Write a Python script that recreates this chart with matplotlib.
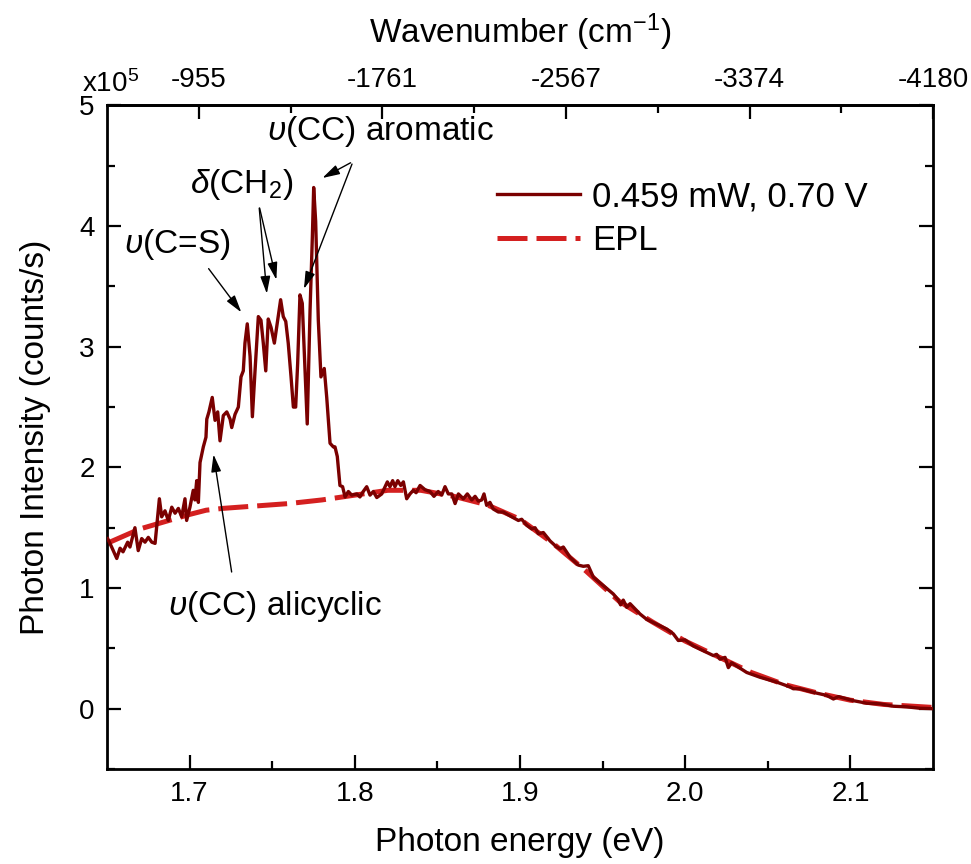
import numpy as np
import matplotlib
matplotlib.use("Agg")
import matplotlib.pyplot as plt
from matplotlib.ticker import MultipleLocator, FixedLocator

plt.rcParams['font.family'] = ['Liberation Sans', 'DejaVu Sans']
plt.rcParams['mathtext.fontset'] = 'custom'
plt.rcParams['mathtext.rm'] = 'Liberation Sans'
plt.rcParams['mathtext.it'] = 'Liberation Sans:italic'

# measured spectrum, photon energy (eV) vs intensity (x1e5 counts/s)
energy_meas = [1.6504, 1.6528, 1.6559, 1.6579, 1.6597, 1.6625, 1.6639, 1.6669, 1.6689, 1.6710,
               1.6730, 1.6750, 1.6771, 1.6791, 1.6817, 1.6831, 1.6851, 1.6871, 1.6892, 1.6912,
               1.6932, 1.6952, 1.6972, 1.6982, 1.7002, 1.7022, 1.7032, 1.7043, 1.7053, 1.7063,
               1.7083, 1.7099, 1.7104, 1.7117, 1.7137, 1.7154, 1.7170, 1.7184, 1.7204, 1.7225,
               1.7245, 1.7255, 1.7275, 1.7295, 1.7311, 1.7325, 1.7335, 1.7349, 1.7366, 1.7380,
               1.7396, 1.7416, 1.7432, 1.7446, 1.7461, 1.7476, 1.7493, 1.7513, 1.7533, 1.7551,
               1.7567, 1.7582, 1.7597, 1.7614, 1.7628, 1.7642, 1.7654, 1.7668, 1.7682, 1.7699,
               1.7712, 1.7729, 1.7743, 1.7751, 1.7763, 1.7779, 1.7795, 1.7815, 1.7830, 1.7850,
               1.7870, 1.7880, 1.7894, 1.7910, 1.7926, 1.7941, 1.7961, 1.7981, 1.8012, 1.8031,
               1.8051, 1.8072, 1.8092, 1.8112, 1.8133, 1.8163, 1.8183, 1.8197, 1.8213, 1.8229,
               1.8243, 1.8260, 1.8278, 1.8294, 1.8314, 1.8334, 1.8354, 1.8371, 1.8395, 1.8425,
               1.8455, 1.8479, 1.8505, 1.8526, 1.8546, 1.8566, 1.8587, 1.8607, 1.8627, 1.8657,
               1.8681, 1.8708, 1.8728, 1.8748, 1.8768, 1.8782, 1.8798, 1.8818, 1.8838, 1.8869,
               1.8899, 1.8950, 1.8990, 1.9010, 1.9041, 1.9071, 1.9091, 1.9111, 1.9141, 1.9182,
               1.9222, 1.9242, 1.9262, 1.9303, 1.9353, 1.9383, 1.9413, 1.9444, 1.9504, 1.9565,
               1.9595, 1.9609, 1.9625, 1.9646, 1.9666, 1.9726, 1.9767, 1.9827, 1.9888, 1.9928,
               1.9958, 1.9999, 2.0049, 2.0110, 2.0170, 2.0190, 2.0210, 2.0241, 2.0261, 2.0281,
               2.0332, 2.0372, 2.0453, 2.0554, 2.0634, 2.0654, 2.0695, 2.0775, 2.0856, 2.0897,
               2.0927, 2.1018, 2.1099, 2.1179, 2.1260, 2.1341, 2.1422, 2.1500]
counts_meas = [1.41, 1.34, 1.245, 1.33, 1.30, 1.38, 1.34, 1.50, 1.31, 1.41,
               1.38, 1.42, 1.38, 1.37, 1.74, 1.59, 1.64, 1.56, 1.67, 1.62,
               1.66, 1.59, 1.74, 1.56, 1.67, 1.81, 1.73, 1.89, 1.71, 2.04,
               2.17, 2.25, 2.40, 2.46, 2.58, 2.39, 2.46, 2.22, 2.43, 2.46,
               2.40, 2.33, 2.44, 2.50, 2.75, 2.80, 3.03, 3.19, 2.92, 2.42,
               2.80, 3.25, 3.22, 3.03, 2.80, 3.23, 3.16, 3.03, 3.22, 3.39,
               3.25, 3.21, 3.03, 2.75, 2.50, 2.50, 2.86, 3.43, 3.36, 2.80,
               2.36, 3.30, 3.91, 4.32, 4.04, 3.22, 2.75, 2.82, 2.58, 2.20,
               2.17, 2.17, 2.09, 1.85, 1.84, 1.755, 1.80, 1.77, 1.78, 1.755,
               1.80, 1.84, 1.77, 1.80, 1.75, 1.78, 1.84, 1.88, 1.84, 1.89,
               1.84, 1.89, 1.85, 1.88, 1.74, 1.78, 1.81, 1.79, 1.85, 1.815,
               1.80, 1.76, 1.80, 1.77, 1.84, 1.78, 1.78, 1.70, 1.78, 1.74,
               1.78, 1.73, 1.76, 1.72, 1.73, 1.78, 1.685, 1.71, 1.655, 1.63,
               1.63, 1.59, 1.56, 1.57, 1.52, 1.49, 1.50, 1.45, 1.46, 1.39,
               1.34, 1.325, 1.34, 1.255, 1.19, 1.18, 1.185, 1.09, 1.02, 0.95,
               0.90, 0.86, 0.90, 0.84, 0.87, 0.785, 0.74, 0.70, 0.66, 0.62,
               0.565, 0.57, 0.52, 0.48, 0.44, 0.45, 0.41, 0.425, 0.34, 0.38,
               0.335, 0.30, 0.26, 0.22, 0.18, 0.165, 0.165, 0.135, 0.11, 0.08,
               0.10, 0.066, 0.045, 0.04, 0.02, 0.015, 0.003, 0.0]

# EPL background
energy_epl = [1.65, 1.66, 1.67, 1.68, 1.69, 1.70, 1.71, 1.72, 1.74, 1.76, 1.78, 1.80,
              1.82, 1.84, 1.86, 1.88, 1.90, 1.92, 1.94, 1.96, 1.98, 2.00, 2.02, 2.04,
              2.06, 2.08, 2.10, 2.12, 2.15]
counts_epl = [1.37, 1.43, 1.49, 1.53, 1.57, 1.61, 1.645, 1.66, 1.68, 1.70, 1.73, 1.77,
              1.81, 1.81, 1.76, 1.69, 1.57, 1.37, 1.14, 0.89, 0.72, 0.56, 0.43, 0.30,
              0.20, 0.13, 0.07, 0.035, 0.01]

top_ticks = [-955, -1761, -2567, -3374, -4180]
top_minor = [-1358, -2164, -2970, -3777]


def e2w(e):
    return -552.0 - (np.asarray(e) - 1.65) * 7256.25


def w2e(w):
    return 1.65 - (np.asarray(w) + 552.0) / 7256.25


fig = plt.figure(figsize=(9.71, 8.64), dpi=100)
ax = fig.add_axes([0.1102, 0.1100, 0.8507, 0.7679])

l_epl, = ax.plot(energy_epl, counts_epl, color='#d42020', lw=3.6,
                 ls=(0, (6, 1.8)), zorder=2)
l_meas, = ax.plot(energy_meas, counts_meas, color='#7a0000', lw=2.4, zorder=3)

ax.set_xlim(1.65, 2.15)
ax.set_ylim(-0.5, 5)
ax.xaxis.set_major_locator(FixedLocator([1.7, 1.8, 1.9, 2.0, 2.1]))
ax.xaxis.set_minor_locator(FixedLocator([1.75, 1.85, 1.95, 2.05]))
ax.set_xticklabels(['1.7', '1.8', '1.9', '2.0', '2.1'])
ax.yaxis.set_major_locator(MultipleLocator(1))
ax.yaxis.set_minor_locator(MultipleLocator(0.5))
ax.tick_params(which='both', direction='in', width=1.6, labelsize=20, right=True)
ax.tick_params(which='major', length=10, pad=9)
ax.tick_params(which='minor', length=6)
for s in ax.spines.values():
    s.set_linewidth(2)

secax = ax.secondary_xaxis('top', functions=(e2w, w2e))
secax.xaxis.set_major_locator(FixedLocator(top_ticks))
secax.xaxis.set_minor_locator(FixedLocator(top_minor))
secax.set_xticklabels([str(t) for t in top_ticks])
secax.tick_params(which='both', direction='in', width=1.6, labelsize=20)
secax.tick_params(which='major', length=10, pad=9)
secax.tick_params(which='minor', length=6)
secax.spines['top'].set_linewidth(2)
secax.set_xlabel('Wavenumber (cm$^{-1}$)', fontsize=24, labelpad=17)

ax.set_xlabel('Photon energy (eV)', fontsize=24, labelpad=14)
ax.set_ylabel('Photon Intensity (counts/s)', fontsize=24, labelpad=20)
fig.text(0.0845, 0.893, 'x10$^5$', fontsize=20, va='baseline', ha='left')

ax.legend([l_meas, l_epl], ['0.459 mW, 0.70 V', 'EPL'], loc='upper left',
          bbox_to_anchor=(0.472, 0.887), frameon=False, fontsize=25,
          handlelength=2.4, handletextpad=0.35, borderpad=0, borderaxespad=0,
          labelspacing=0.3)

arrow = dict(arrowstyle='-|>,head_length=0.7,head_width=0.2', color='black',
             lw=1.0, mutation_scale=15)
ax.annotate('', xy=(1.7789, 4.388), xytext=(1.7989, 4.536), arrowprops=arrow)
ax.annotate('', xy=(1.7686, 3.458), xytext=(1.7989, 4.536), arrowprops=arrow)
ax.annotate('', xy=(1.7469, 3.417), xytext=(1.7420, 4.172), arrowprops=arrow)
ax.annotate('', xy=(1.7529, 3.533), xytext=(1.7420, 4.172), arrowprops=arrow)
ax.annotate('', xy=(1.7323, 3.267), xytext=(1.7105, 3.666), arrowprops=arrow)
ax.annotate('', xy=(1.7142, 2.130), xytext=(1.7257, 1.110), arrowprops=arrow)

ax.text(1.8153, 4.786, r'$\upsilon$(CC) aromatic', fontsize=24, ha='center', va='center')
ax.text(1.7317, 4.346, r'$\delta$(CH$_2$)', fontsize=24, ha='center', va='center')
ax.text(1.6924, 3.848, r'$\upsilon$(C=S)', fontsize=24, ha='center', va='center')
ax.text(1.7517, 0.844, r'$\upsilon$(CC) alicyclic', fontsize=24, ha='center', va='center')

fig.savefig('out.png', dpi=100)
